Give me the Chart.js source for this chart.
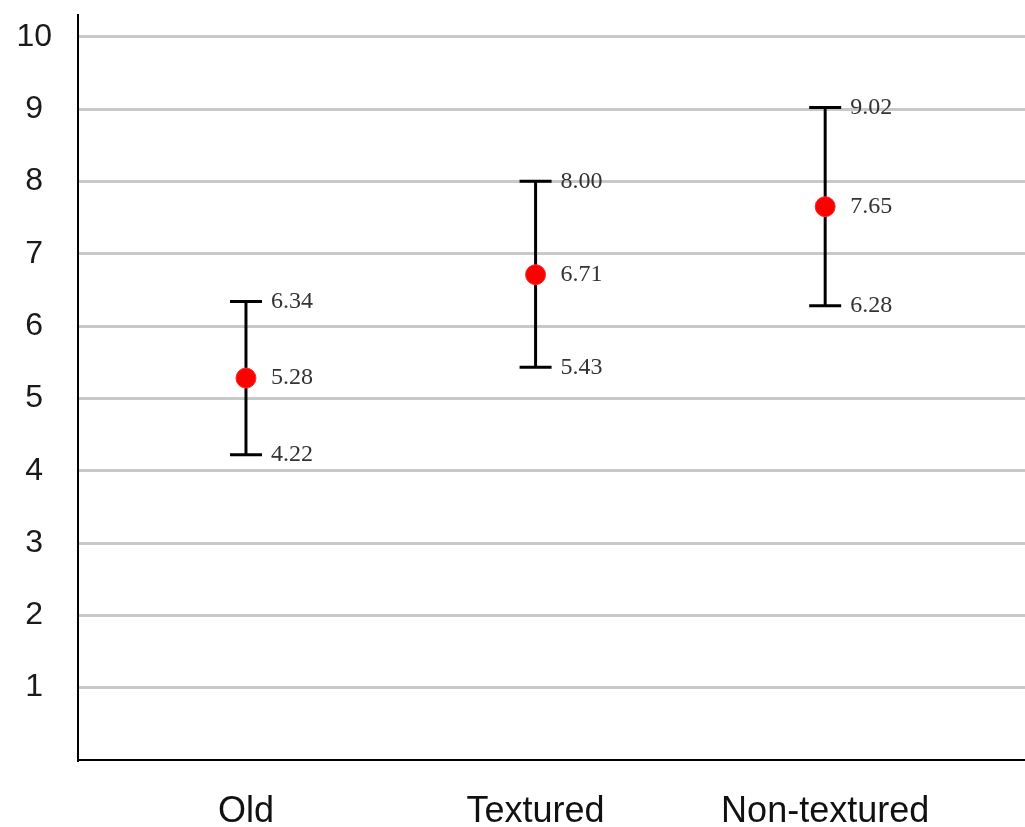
<!DOCTYPE html>
<html>
<head>
<meta charset="utf-8">
<script src="https://cdn.jsdelivr.net/npm/chart.js@4"></script>
<style>
  html, body { margin: 0; padding: 0; background: #fff; overflow: hidden; }
  canvas { display: block; }
</style>
</head>
<body>
<canvas id="errChart" width="1025" height="827"></canvas>
<script>
var categories = ['Old', 'Textured', 'Non-textured'];
var means = [5.28, 6.71, 7.65];
var upper = [6.34, 8.00, 9.02];
var lower = [4.22, 5.43, 6.28];
var yTicks = [1, 2, 3, 4, 5, 6, 7, 8, 9, 10];

// x position of each category on a linear axis (1, 2, 3)
function pos(i) { return i + 1; }

var meanPts = means.map(function (v, i) { return { x: pos(i), y: v }; });
var capPts = upper.map(function (v, i) { return { x: pos(i), y: v }; })
  .concat(lower.map(function (v, i) { return { x: pos(i), y: v }; }));

var barSets = categories.map(function (c, i) {
  return {
    type: 'line',
    label: c + ' range',
    data: [{ x: pos(i), y: lower[i] }, { x: pos(i), y: upper[i] }],
    borderColor: '#000',
    borderWidth: 3,
    pointRadius: 0,
    order: 1
  };
});

// draws the value next to each cap and each mean
var valueLabels = {
  id: 'valueLabels',
  afterDatasetsDraw: function (chart) {
    var ctx = chart.ctx;
    ctx.save();
    ctx.font = '24px "Liberation Serif", "Times New Roman", serif';
    ctx.fillStyle = '#333';
    ctx.textAlign = 'left';
    ctx.textBaseline = 'middle';
    chart.data.datasets.forEach(function (ds, di) {
      if (!ds.showValues) return;
      var meta = chart.getDatasetMeta(di);
      meta.data.forEach(function (el, k) {
        ctx.fillText(ds.data[k].y.toFixed(2), el.x + 25, el.y);
      });
    });
    ctx.restore();
  }
};

new Chart(document.getElementById('errChart'), {
  type: 'scatter',
  data: {
    datasets: [
      {
        label: 'Mean',
        data: meanPts,
        pointStyle: 'circle',
        pointRadius: 10,
        backgroundColor: '#ff0000',
        borderColor: '#ff2a2a',
        borderWidth: 1,
        showValues: true,
        order: 0
      },
      {
        label: 'Caps',
        data: capPts,
        pointStyle: 'line',
        pointRadius: 16,
        borderColor: '#000',
        borderWidth: 3,
        showValues: true,
        order: 2
      }
    ].concat(barSets)
  },
  options: {
    responsive: false,
    animation: false,
    layout: { autoPadding: false, padding: { top: 15, right: 0, left: 0, bottom: 0 } },
    plugins: {
      legend: { display: false },
      tooltip: { enabled: false }
    },
    scales: {
      x: {
        type: 'linear',
        min: 0.42,
        max: 3.69,
        afterBuildTicks: function (axis) {
          axis.ticks = categories.map(function (c, i) { return { value: pos(i) }; });
        },
        afterFit: function (axis) {
          axis.height = 67;
          axis.paddingLeft = 0;
          axis.paddingRight = 0;
        },
        grid: { display: false },
        border: { display: true, color: '#000', width: 2 },
        ticks: {
          padding: 22,
          color: '#111',
          font: { family: '"Liberation Sans", Arial, sans-serif', size: 36 },
          callback: function (v) { return categories[Math.round(v) - 1]; }
        }
      },
      y: {
        min: 0,
        max: 10.3,
        afterBuildTicks: function (axis) {
          axis.ticks = [{ value: 0 }].concat(yTicks.map(function (v) { return { value: v }; }));
        },
        afterFit: function (axis) {
          axis.width = 78;
          axis.paddingTop = 0;
          axis.paddingBottom = 0;
        },
        grid: {
          drawTicks: false,
          lineWidth: 3,
          color: function (c) { return c.tick && c.tick.value === 0 ? 'rgba(0,0,0,0)' : '#c8c8c8'; }
        },
        border: { display: true, color: '#000', width: 2 },
        ticks: {
          padding: 26,
          crossAlign: 'center',
          color: '#1a1a1a',
          font: { family: '"Liberation Sans", Arial, sans-serif', size: 32 },
          callback: function (v) { return v === 0 ? '' : String(v); }
        }
      }
    }
  },
  plugins: [valueLabels]
});
</script>
</body>
</html>
